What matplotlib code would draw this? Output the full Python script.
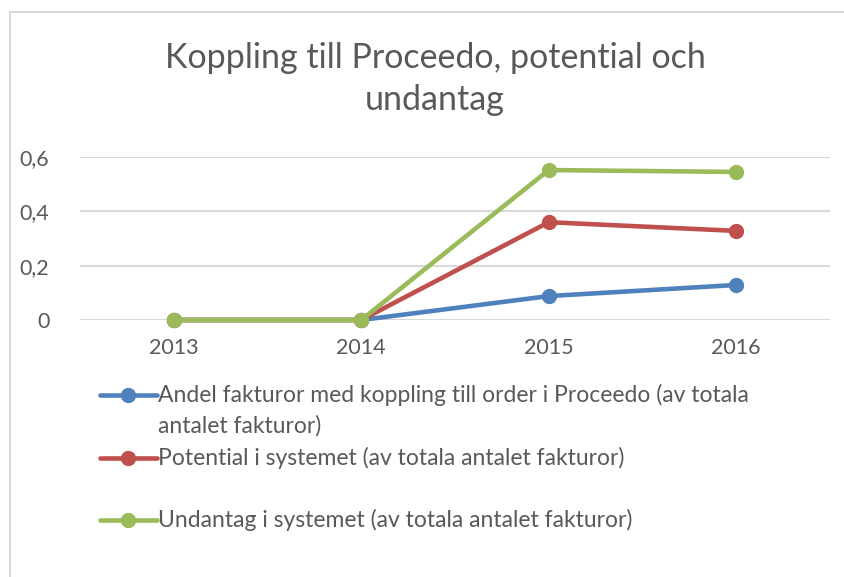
import matplotlib.pyplot as plt
from matplotlib.lines import Line2D
from matplotlib.patches import Rectangle

years = ["2013", "2014", "2015", "2016"]
andel = [0, 0, 0.088, 0.129]
potential = [0, 0, 0.36, 0.328]
undantag = [0, 0, 0.552, 0.545]
labels = [
    "Andel fakturor med koppling till order i Proceedo (av totala\nantalet fakturor)",
    "Potential i systemet (av totala antalet fakturor)",
    "Undantag i systemet (av totala antalet fakturor)",
]
colors = ["#4F81BD", "#C0504D", "#9BBB59"]
yticks = [0, 0.2, 0.4, 0.6]
ytick_labels = ["0", "0,2", "0,4", "0,6"]

plt.rcParams["font.family"] = ["Lato", "DejaVu Sans"]
text_col = "#595959"

fig = plt.figure(figsize=(8.45, 5.77), dpi=100)
W, H = 845, 577

# chart area border (only left/top visible)
fig.add_artist(Rectangle((10 / W, -0.1), 1.2, 1 - 12 / H + 0.1, transform=fig.transFigure,
                         fill=False, edgecolor="#D9D9D9", linewidth=1.5))

ax = fig.add_axes([80 / W, 1 - 320 / H, 750 / W, 163 / H])
x = range(len(years))
for vals, c in zip([andel, potential, undantag], colors):
    ax.plot(x, vals, color=c, linewidth=3.3, marker="o", markersize=10,
            solid_capstyle="round", clip_on=False, zorder=3)

ax.set_xlim(-0.5, len(years) - 0.5)
ax.set_ylim(0, 0.6)
ax.set_xticks(list(x))
ax.set_xticklabels(years)
ax.set_yticks(yticks)
ax.set_yticklabels(ytick_labels)
ax.tick_params(length=0, labelsize=15.5, colors=text_col)
ax.tick_params(axis="x", pad=13)
ax.tick_params(axis="y", pad=22)
ax.grid(axis="y", color="#D9D9D9", linewidth=1.5)
ax.set_axisbelow(True)
for s in ax.spines.values():
    s.set_visible(False)

fig.text(435 / W, 1 - 79 / H, "Koppling till Proceedo, potential och\nundantag",
         ha="center", va="center", fontsize=24.5, color=text_col, linespacing=1.38)

# legend
row_y = [395, 458, 520]
for lab, c, yy in zip(labels, colors, row_y):
    fy = 1 - yy / H
    fig.add_artist(Line2D([100 / W, 157 / W], [fy, fy], transform=fig.transFigure,
                          color=c, linewidth=3.3, solid_capstyle="round"))
    fig.add_artist(Line2D([128 / W], [fy], transform=fig.transFigure, color=c,
                          marker="o", markersize=10))
    fig.text(158 / W, fy + 11 / H, lab, ha="left", va="top", fontsize=16.5,
             color=text_col, linespacing=1.5)

fig.savefig("out.png", dpi=100)
